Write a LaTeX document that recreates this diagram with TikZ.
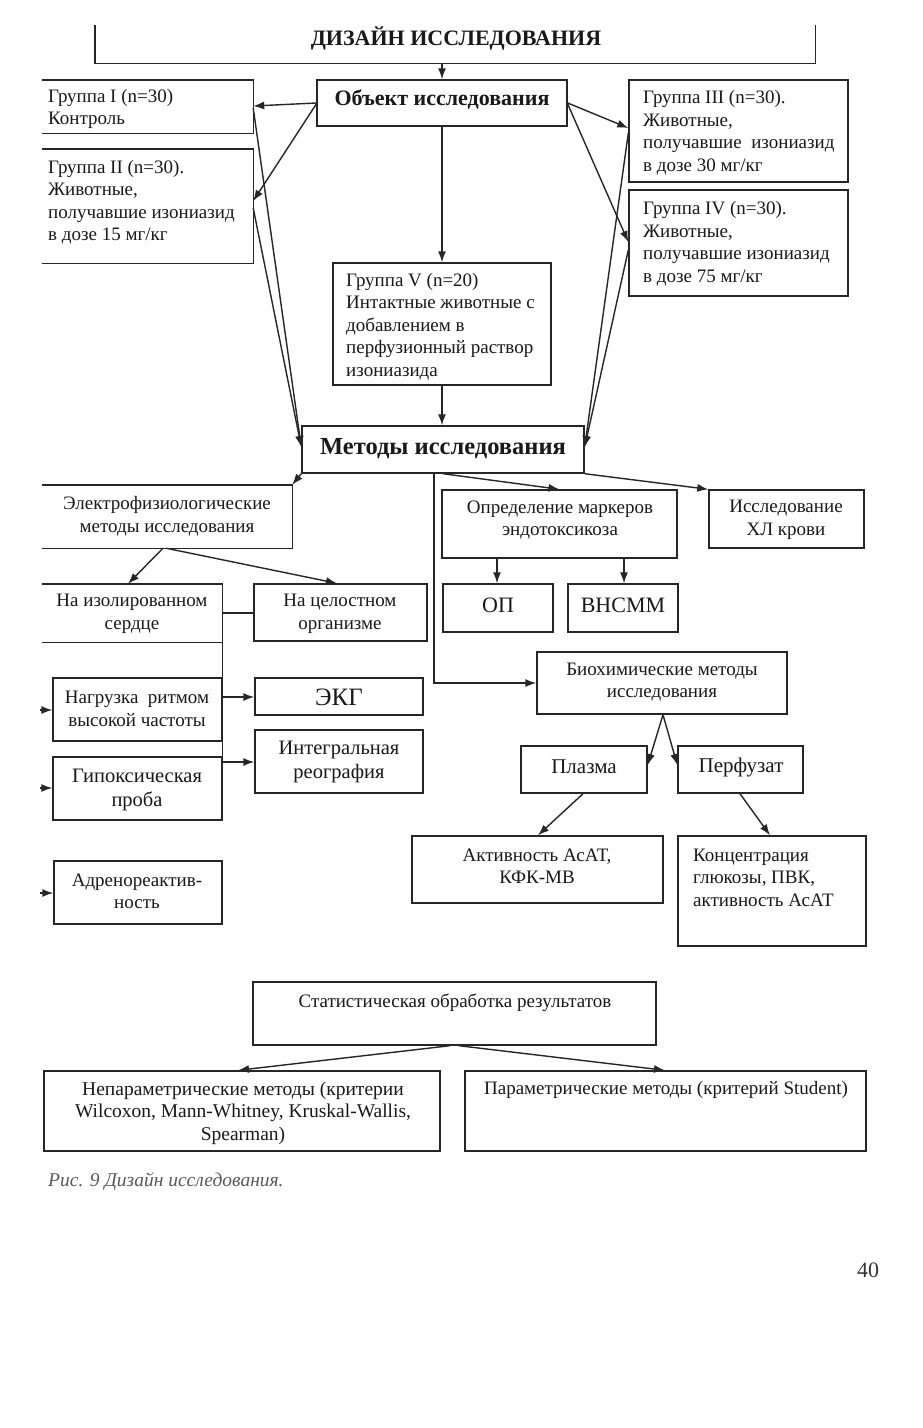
\documentclass[tikz,border=0pt]{standalone}
\usepackage{fontspec}
\setmainfont{Liberation Serif}
\usetikzlibrary{arrows.meta,fit,calc}
\newcommand\fsz[2]{\fontsize{#1}{#2}\selectfont}
\newcommand\bx[6]{\node[#1, fit={(#3,#4) (#5,#6)}] (#2) {};}
\begin{document}
\begin{tikzpicture}[x=1pt,y=-1pt,
  ln/.style={draw=black!85, line width=1.4pt},
  box/.style={ln, inner sep=0pt, rectangle},
  obox/.style={inner sep=0pt, rectangle},
  arr/.style={ln, -{Latex[length=11pt,width=8pt]}},
  txt/.style={inner sep=0pt, align=center, font=\fsz{19}{22.5}, text=black!90},
  txtl/.style={txt, align=left, anchor=west},
  bigb/.style={txt, font=\fsz{21}{24}\bfseries},
  big/.style={txt, font=\fsz{21}{24}}]
\useasboundingbox[fill=white] (0,0) rectangle (922,1428);

% ---- boxes ----
\bx{obox}{tb}{95}{25}{815}{63}
\draw[ln] (tb.north west) -- (tb.south west) -- (tb.south east) -- (tb.north east);
\bx{box}{obj}{317}{80}{567}{126}
\bx{obox}{g1}{42}{80}{253}{133}
\draw[ln] (g1.north west) -- (g1.north east) -- (g1.south east) -- (g1.south west);
\bx{obox}{g2}{42}{149}{253}{263}
\draw[ln] (g2.north west) -- (g2.north east) -- (g2.south east) -- (g2.south west);
\bx{box}{g3}{629}{80}{848}{182}
\bx{box}{g4}{629}{190}{848}{296}
\bx{box}{g5}{333}{263}{551}{385}
\bx{box}{met}{302}{426}{584}{473}
\bx{obox}{el}{42}{485}{292}{548}
\draw[ln] (el.north west) -- (el.north east) -- (el.south east) -- (el.south west);
\bx{obox}{iz}{42}{584}{222}{642}
\draw[ln] (iz.north west) -- (iz.north east) -- (iz.south east) -- (iz.south west);
\bx{box}{cel}{254}{584}{427}{641}
\bx{box}{nag}{53}{678}{222}{741}
\bx{box}{gip}{53}{757}{222}{820}
\bx{box}{adr}{54}{861}{222}{924}
\bx{box}{ekg}{255}{678}{423}{715}
\bx{box}{integ}{255}{730}{423}{793}
\bx{box}{opr}{442}{490}{677}{558}
\bx{box}{isl}{709}{490}{864}{548}
\bx{box}{op}{443}{584}{553}{632}
\bx{box}{vn}{568}{584}{678}{632}
\bx{box}{bio}{537}{652}{787}{714}
\bx{box}{pl}{521}{746}{647}{793}
\bx{box}{pf}{678}{746}{803}{793}
\bx{box}{akt}{412}{836}{663}{903}
\bx{box}{kon}{678}{836}{866}{946}
\bx{box}{st}{253}{982}{656}{1045}
\bx{box}{nep}{44}{1071}{440}{1151}
\bx{box}{par}{465}{1071}{866}{1151}

% ---- texts ----
\node[bigb, font=\fsz{22}{24}\bfseries] (ttitle) at (456,38) {ДИЗАЙН ИССЛЕДОВАНИЯ};
\node[bigb, font=\fsz{22}{24}\bfseries] (tobj) at (442,100) {Объект исследования};
\node[txtl] (tg1) at (48,109) {Группа I (n=30)\\Контроль};
\node[txtl] (tg2) at (48,202) {Группа II (n=30).\\Животные,\\получавшие изониазид\\в дозе 15 мг/кг};
\node[txtl] (tg3) at (643,132.5) {Группа III (n=30).\\Животные,\\получавшие\ \ изониазид\\в дозе 30 мг/кг};
\node[txtl] (tg4) at (643,243.5) {Группа IV (n=30).\\Животные,\\получавшие изониазид\\в дозе 75 мг/кг};
\node[txtl] (tg5) at (346,326.5) {Группа V (n=20)\\Интактные животные с\\добавлением в\\перфузионный раствор\\изониазида};
\node[txt, font=\fsz{24.5}{28}\bfseries] (tmet) at (443,449) {Методы исследования};
\node[txt] (tel) at (167,516) {Электрофизиологические\\методы исследования};
\node[txt] (tiz) at (132,614) {На изолированном\\сердце};
\node[txt] (tcel) at (340,614) {На целостном\\организме};
\node[txt] (tnag) at (137,709) {Нагрузка\ \ ритмом\\высокой частоты};
\node[txt, font=\fsz{20.5}{24}] (tgip) at (137,789.5) {Гипоксическая\\проба};
\node[txt] (tadr) at (137,891.5) {Адренореактив-\\ность};
\node[txt, font=\fsz{25}{28}] (tekg) at (339,697) {ЭКГ};
\node[txt, font=\fsz{20.5}{24}] (tint) at (339,762) {Интегральная\\реография};
\node[txt] (topr) at (560,520) {Определение маркеров\\эндотоксикоза};
\node[txt] (tisl) at (786,520) {Исследование\\ХЛ крови};
\node[big, font=\fsz{22}{26}] (top) at (498,605) {ОП};
\node[big, font=\fsz{22}{26}] (tvn) at (623,605) {ВНСММ};
\node[txt] (tbio) at (662,682) {Биохимические методы\\исследования};
\node[big] (tpl) at (584,767) {Плазма};
\node[big] (tpf) at (741,767) {Перфузат};
\node[txt] (takt) at (537,866) {Активность АсАТ,\\КФК-МВ};
\node[txtl] (tkon) at (693,877.5) {Концентрация\\глюкозы, ПВК,\\активность АсАТ};
\node[txt] (tst) at (455,1003) {Статистическая обработка результатов};
\node[txt, font=\fsz{19.5}{22.5}] (tnep) at (243,1113) {Непараметрические методы (критерии\\Wilcoxon, Mann-Whitney, Kruskal-Wallis,\\Spearman)};
\node[txt] (tpar) at (666,1090) {Параметрические методы (критерий Student)};
\node[txtl, font=\fsz{19.5}{22}\itshape, text=black!65] (cap) at (48,1182) {Рис. 9 Дизайн исследования.};
\node[txt, font=\fsz{22}{26}, text=black!80] (pg) at (868,1270) {40};

% ---- connectors ----
\draw[arr] (obj.north |- tb.south) -- (obj.north);
\draw[arr] (obj.west |- 0,103) -- (g1.east |- 0,106);
\draw[arr] (obj.west |- 0,104) -- (g2.east |- 0,201);
\draw[arr] (g1.east |- 0,108) -- (met.west |- 0,447);
\draw[arr] (g2.east |- 0,208) -- (met.west |- 0,447);
\draw[arr] (obj.east |- 0,103) -- (g3.west |- 0,128);
\draw[arr] (obj.east |- 0,104) -- (g4.west |- 0,242);
\draw[arr] (g3.west |- 0,133) -- (met.east |- 0,447);
\draw[arr] (g4.west |- 0,250) -- (met.east |- 0,447);
\draw[arr] (obj.south) -- (obj.south |- g5.north);
\draw[arr] (g5.south) -- (g5.south |- met.north);
\draw[arr] (met.south west) -- (el.north east);
\draw[arr] (met.south -| 443,0) -- (opr.north);
\draw[arr] (met.south east) -- (isl.north west);
\draw[arr] (met.south -| 434,0) |- (bio.west |- 0,683);
\draw[arr] (el.south -| 163,0) -- (iz.north -| 128,0);
\draw[arr] (el.south -| 166,0) -- (cel.north -| 337,0);
\draw[ln] (iz.east |- 0,613) -- (cel.west |- 0,613);
\draw[arr] (iz.south east) |- (integ.west |- 0,762);
\draw[arr] (nag.east |- 0,697) -- (ekg.west |- 0,697);
\coordinate (s1) at (40,710);
\coordinate (s2) at (40,788);
\coordinate (s3) at (40,893);
\draw[arr] (s1) -- (nag.west |- s1);
\draw[arr] (s2) -- (gip.west |- s2);
\draw[arr] (s3) -- (adr.west |- s3);
\draw[arr] (opr.south -| 497,0) -- (op.north -| 497,0);
\draw[arr] (opr.south -| 624,0) -- (vn.north -| 624,0);
\draw[arr] (bio.south -| 663,0) -- (pl.east |- 0,765);
\draw[arr] (bio.south -| 663,0) -- (pf.west |- 0,765);
\draw[arr] (pl.south -| 583,0) -- (akt.north -| 538,0);
\draw[arr] (pf.south -| 740,0) -- (kon.north -| 770,0);
\draw[arr] (st.south -| 450,0) -- (nep.north -| 238,0);
\draw[arr] (st.south -| 459,0) -- (par.north -| 665,0);
\end{tikzpicture}
\end{document}
